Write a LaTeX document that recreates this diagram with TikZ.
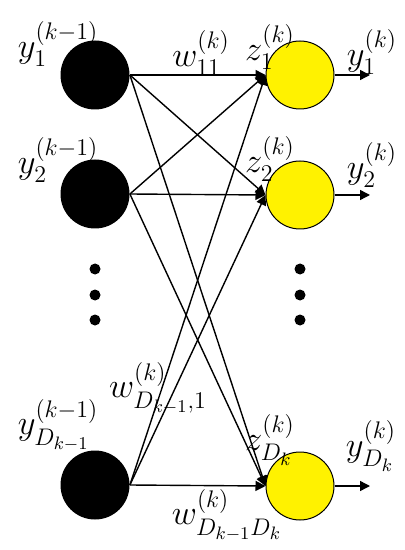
\documentclass[tikz,border=0pt]{standalone}
\usepackage{amsmath}
\usepackage{tikz}
\usetikzlibrary{arrows.meta,positioning}

\begin{document}
\begin{tikzpicture}[
  x=0.5pt,y=-0.5pt,>={Triangle[length=5pt,width=5pt]},
  link/.style={->,line width=0.7pt},
  prev/.style={circle,fill=black,minimum size=34.5pt,inner sep=0pt},
  curr/.style={circle,draw,line width=0.5pt,fill=yellow,
    minimum size=34pt,inner sep=0pt},
  vdot/.style={circle,fill=black,minimum size=5.5pt,inner sep=0pt},
  every node/.style={font=\fontsize{18.5}{22}\selectfont}
]
  \useasboundingbox (0,0) rectangle (405,550);

  % layer k-1
  \node[prev] (prev-1) at (95,75) {};
  \node[prev] (prev-2) at (95,194) {};
  \node[prev] (prev-d) at (95,485) {};
  % layer k
  \node[curr] (curr-1) at (300,75) {};
  \node[curr] (curr-2) at (300,195) {};
  \node[curr] (curr-d) at (300,486) {};

  \node[vdot] (prev-dot-1) at (95,269) {};
  \node[vdot] (prev-dot-2) at (95,295) {};
  \node[vdot] (prev-dot-3) at (95,320) {};
  \node[vdot] (curr-dot-1) at (300,269) {};
  \node[vdot] (curr-dot-2) at (300,295) {};
  \node[vdot] (curr-dot-3) at (300,320) {};

  \coordinate (out-1) at (370,75);
  \coordinate (out-2) at (370,195);
  \coordinate (out-d) at (370,486);

  \draw[link] (prev-1.east) -- (curr-1.west);
  \draw[link] (prev-1.east) -- (curr-2.west);
  \draw[link] (prev-1.east) -- (curr-d.west);
  \draw[link] (prev-2.east) -- (curr-1.west);
  \draw[link] (prev-2.east) -- (curr-2.west);
  \draw[link] (prev-2.east) -- (curr-d.west);
  \draw[link] (prev-d.east) -- (curr-1.west);
  \draw[link] (prev-d.east) -- (curr-2.west);
  \draw[link] (prev-d.east) -- (curr-d.west);
  \draw[link] (curr-1.east) -- (out-1);
  \draw[link] (curr-2.east) -- (out-2);
  \draw[link] (curr-d.east) -- (out-d);

  % labels
  \node (y-prev-1) at (58,44) {$y_1^{(k-1)}$};
  \node (y-prev-2) at (58,160) {$y_2^{(k-1)}$};
  \node (y-prev-d) at (58,425) {$y_{D_{k-1}}^{(k-1)}$};
  \node (z-1) at (270,47) {$z_1^{(k)}$};
  \node (z-2) at (270,159) {$z_2^{(k)}$};
  \node (z-d) at (270,440) {$z_{D_k}^{(k)}$};
  \node (y-1) at (372,52) {$y_1^{(k)}$};
  \node (y-2) at (372,165) {$y_2^{(k)}$};
  \node (y-d) at (371,446) {$y_{D_k}^{(k)}$};
  \node (w-11) at (201,53) {$w_{11}^{(k)}$};
  \node (w-d1) at (158,388) {$w_{D_{k-1},1}^{(k)}$};
  \node (w-dd) at (227,515) {$w_{D_{k-1}D_k}^{(k)}$};
\end{tikzpicture}
\end{document}
